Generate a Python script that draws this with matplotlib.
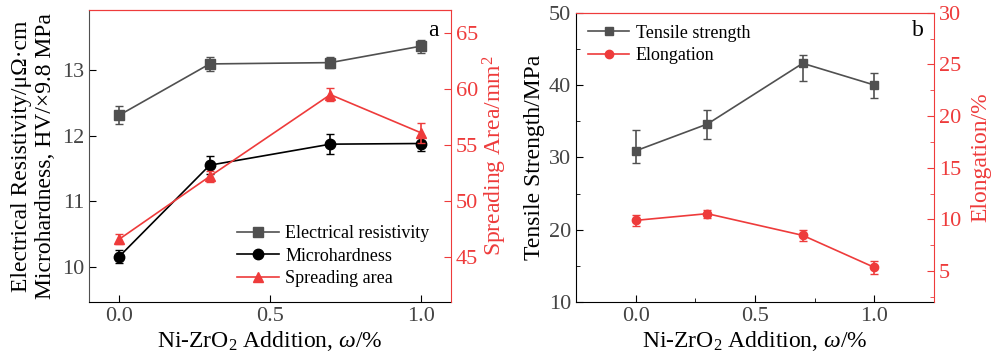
import matplotlib
matplotlib.use('Agg')
import matplotlib.pyplot as plt
from matplotlib.ticker import MultipleLocator

plt.rcParams['font.family'] = ['Liberation Serif', 'DejaVu Serif']
plt.rcParams['mathtext.fontset'] = 'custom'
plt.rcParams['mathtext.rm'] = 'Liberation Serif'
plt.rcParams['mathtext.it'] = 'Liberation Serif:italic'

# Datos panel a
x_a = [0.0, 0.3, 0.7, 1.0]
resistividad = [12.31, 13.09, 13.11, 13.36]
resistividad_err = [0.14, 0.11, 0.08, 0.10]
microdureza = [10.16, 11.55, 11.87, 11.88]
microdureza_err = [0.10, 0.14, 0.15, 0.12]
area = [46.6, 52.2, 59.5, 56.1]
area_err = [0.45, 0.5, 0.6, 0.9]

# Datos panel b
x_b = [0.0, 0.3, 0.7, 1.0]
traccion = [30.9, 34.6, 43.0, 40.0]
traccion_err_inf = [1.7, 2.0, 2.5, 1.8]
traccion_err_sup = [2.9, 2.0, 1.2, 1.6]
elongacion = [9.9, 10.55, 8.45, 5.35]
elongacion_err = [0.55, 0.4, 0.55, 0.6]

rojo = '#ee3b3b'
gris = '#505050'
gris_txt = '#444444'
fs_tick = 16
fs_label = 17
fs_leg = 13

fig = plt.figure(figsize=(9.95, 3.63), dpi=100)

# ---------------- Panel a ----------------
ax1 = fig.add_axes([89/995, 61/363, 362/995, 292/363])
e1 = ax1.errorbar(x_a, resistividad, yerr=resistividad_err, color=gris, marker='s', ms=7,
                  lw=1.2, capsize=3, elinewidth=1.2)
e2 = ax1.errorbar(x_a, microdureza, yerr=microdureza_err, color='black', marker='o', ms=7.5,
                  lw=1.2, capsize=3, elinewidth=1.2)
ax1.set_xlim(-0.1, 1.1)
ax1.set_ylim(9.47, 13.91)
ax1.set_yticks([10, 11, 12, 13])
ax1.set_xticks([0.0, 0.5, 1.0])
ax1.tick_params(direction='in', labelsize=fs_tick, labelcolor=gris_txt, length=5)
ax1.set_xlabel('Ni-ZrO$_2$ Addition, $\\omega$/%', fontsize=fs_label, labelpad=2)
ax1.set_ylabel('Electrical Resistivity/μΩ·cm\nMicrohardness, HV/×9.8 MPa',
               fontsize=fs_label, labelpad=4)
ax1.spines['left'].set_color(gris)
ax1.spines['top'].set_color(rojo)
ax1.spines['right'].set_visible(False)

ax2 = ax1.twinx()
e3 = ax2.errorbar(x_a, area, yerr=area_err, color=rojo, marker='^', ms=7,
                  lw=1.2, capsize=3, elinewidth=1.2)
ax2.set_ylim(41.0, 67.05)
ax2.set_yticks([45, 50, 55, 60, 65])
ax2.tick_params(direction='in', labelsize=fs_tick, colors=rojo, length=5)
ax2.spines['right'].set_color(rojo)
ax2.spines['top'].set_color(rojo)
ax2.spines['left'].set_visible(False)
ax2.spines['bottom'].set_visible(False)
ax2.set_ylabel('Spreading Area/mm$^2$', color=rojo, fontsize=fs_label, labelpad=2)

# Leyenda solo con linea y marcador (sin barras de error)
ax2.legend([e1[0], e2[0], e3[0]],
           ['Electrical resistivity', 'Microhardness', 'Spreading area'],
           loc='lower right', bbox_to_anchor=(0.985, -0.005),
           frameon=False, fontsize=fs_leg, handlelength=2.3, labelspacing=0.3,
           handletextpad=0.35)
ax1.text(0.95, 0.91, 'a', transform=ax1.transAxes, fontsize=fs_label, ha='center')

# ---------------- Panel b ----------------
ax3 = fig.add_axes([576/995, 61/363, 358/995, 289.3/363])
e4 = ax3.errorbar(x_b, traccion, yerr=[traccion_err_inf, traccion_err_sup], color=gris,
                  marker='s', ms=6, lw=1.2, capsize=3, elinewidth=1.2)
ax3.set_xlim(-0.25, 1.25)
ax3.set_ylim(10, 50)
ax3.set_xticks([0.0, 0.5, 1.0])
ax3.xaxis.set_minor_locator(MultipleLocator(0.25))
ax3.yaxis.set_minor_locator(MultipleLocator(5))
ax3.tick_params(which='both', direction='in', labelsize=fs_tick, labelcolor=gris_txt)
ax3.tick_params(which='major', length=5)
ax3.tick_params(which='minor', length=3)
ax3.set_xlabel('Ni-ZrO$_2$ Addition, $\\omega$/%', fontsize=fs_label, labelpad=2)
ax3.set_ylabel('Tensile Strength/MPa', fontsize=fs_label, labelpad=3)
ax3.spines['top'].set_color(rojo)
ax3.spines['right'].set_visible(False)

ax4 = ax3.twinx()
e5 = ax4.errorbar(x_b, elongacion, yerr=elongacion_err, color=rojo, marker='o', ms=6,
                  lw=1.2, capsize=3, elinewidth=1.2)
ax4.set_ylim(2, 30)
ax4.set_yticks([5, 10, 15, 20, 25, 30])
ax4.yaxis.set_minor_locator(MultipleLocator(2.5))
ax4.tick_params(which='both', direction='in', labelsize=fs_tick, colors=rojo)
ax4.tick_params(which='major', length=5)
ax4.tick_params(which='minor', length=3)
ax4.spines['right'].set_color(rojo)
ax4.spines['top'].set_color(rojo)
ax4.spines['left'].set_visible(False)
ax4.spines['bottom'].set_visible(False)
ax4.set_ylabel('Elongation/%', color=rojo, fontsize=fs_label, labelpad=7)

ax4.legend([e4[0], e5[0]], ['Tensile strength', 'Elongation'],
           loc='upper left', bbox_to_anchor=(-0.012, 1.015),
           frameon=False, fontsize=fs_leg, handlelength=2.3, labelspacing=0.3,
           handletextpad=0.35)
ax3.text(0.955, 0.92, 'b', transform=ax3.transAxes, fontsize=fs_label, ha='center')

fig.savefig('out.png', dpi=100)
